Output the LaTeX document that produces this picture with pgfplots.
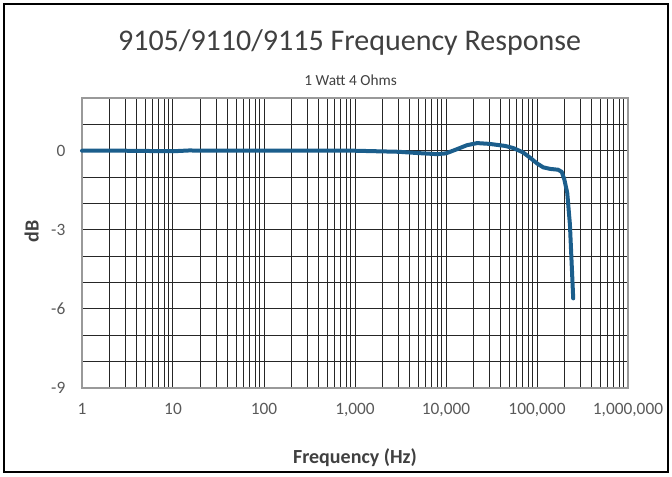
\documentclass[border=0pt]{standalone}
\usepackage{pgfplots}
\pgfplotsset{compat=1.18}
\usepackage{fontspec}
\setmainfont{Carlito}
\definecolor{curve}{HTML}{1B5E8C}
\definecolor{ticktext}{HTML}{595959}
\definecolor{titletext}{HTML}{404040}
\begin{document}
\begin{tikzpicture}
\useasboundingbox (0,0) rectangle (504pt,357pt);
\draw[line width=1.6pt,black] (3pt,3pt) rectangle (501pt,354pt);
\begin{axis}[
  at={(61.5pt,66pt)}, anchor=south west,
  scale only axis, width=409.5pt, height=217.5pt,
  xmode=log, log basis x=10,
  xmin=1, xmax=1000000, ymin=-9, ymax=2,
  xtick={1,10,100,1000,10000,100000,1000000},
  xticklabels={1,10,100,{1,000},{10,000},{100,000},{1,000,000}},
  minor xtick={2,3,4,5,6,7,8,9,
    20,30,40,50,60,70,80,90,
    200,300,400,500,600,700,800,900,
    2000,3000,4000,5000,6000,7000,8000,9000,
    20000,30000,40000,50000,60000,70000,80000,90000,
    200000,300000,400000,500000,600000,700000,800000,900000},
  ytick={-9,-6,-3,0},
  yticklabels={-9,-6,-3,0},
  minor ytick={-8,-7,-5,-4,-2,-1,1,2},
  grid=both,
  major grid style={black!85,line width=0.75pt},
  minor grid style={black!85,line width=0.75pt},
  axis line style={draw=gray!80,line width=0.9pt},
  tick style={draw=none},
  ticklabel style={font=\fontsize{13}{15}\selectfont,text=ticktext},
  xticklabel style={yshift=-8pt},
  yticklabel style={xshift=-9pt},
  xlabel={\textbf{Frequency (Hz)}},
  xlabel style={at={(axis description cs:0.5,-0.24)},anchor=center,font=\fontsize{15}{18}\selectfont,text=titletext},
  ylabel={\textbf{dB}},
  ylabel style={at={(axis description cs:-0.092,0.54)},anchor=center,font=\fontsize{15}{18}\selectfont,text=titletext},
  title={\fontsize{22.5}{26}\selectfont 9105/9110/9115 Frequency Response},
  title style={at={(axis description cs:0.49,1.165)},anchor=center,text=titletext},
  clip=false,
]
\addplot[curve, line width=3pt, line join=round, line cap=round] coordinates {
(1,0) (3,0) (10,-0.02) (15,0.01) (30,0) (100,0) (1000,0) (3000,-0.04)
(5000,-0.09) (8000,-0.13) (10000,-0.1) (13000,0.05) (17000,0.21) (22000,0.29)
(30000,0.26) (45000,0.18) (55000,0.1) (70000,-0.06) (85000,-0.28)
(100000,-0.48) (117000,-0.63) (140000,-0.69) (170000,-0.72) (187000,-0.8)
(200000,-1.1) (215000,-1.6) (230000,-2.8) (250000,-5.6)
};
\node[font=\fontsize{11.5}{13}\selectfont,text=titletext] at (axis description cs:0.492,1.062) {1 Watt 4 Ohms};
\end{axis}
\end{tikzpicture}
\end{document}
